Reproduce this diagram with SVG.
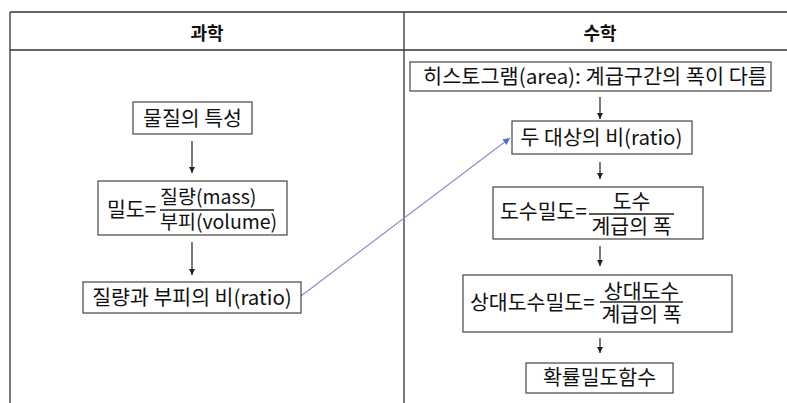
<svg xmlns="http://www.w3.org/2000/svg" width="787" height="403" viewBox="0 0 787 403">
<defs>
<style>
.t{font-family:"Noto Sans CJK KR","Malgun Gothic",sans-serif;font-size:20.5px;fill:#111;}
.f{font-family:"Noto Sans CJK KR","Malgun Gothic",sans-serif;font-size:19.5px;fill:#111;}
.h{font-family:"Noto Sans CJK KR",sans-serif;font-size:18px;font-weight:bold;fill:#111;}
.box{fill:#fff;stroke:#444;stroke-width:1.2;}
.frac{stroke:#222;stroke-width:1.3;}
.arr{stroke:#222;stroke-width:1.2;fill:none;marker-end:url(#ah);}
.tbl{stroke:#333;stroke-width:1.3;fill:none;}
</style>
<marker id="ah" viewBox="0 0 10 10" refX="10" refY="5" markerWidth="6" markerHeight="6" markerUnits="userSpaceOnUse" orient="auto">
<path d="M0,0 L10,5 L0,10 z" fill="#222"/>
</marker>
<marker id="ahb" viewBox="0 0 10 10" refX="10" refY="5" markerWidth="7" markerHeight="7" markerUnits="userSpaceOnUse" orient="auto">
<path d="M0,0 L10,5 L0,10 z" fill="#4a6fd0"/>
</marker>
</defs>
<rect width="787" height="403" fill="#fff"/>
<g id="table">
<line class="tbl" x1="10" y1="12" x2="787" y2="12"/>
<line x1="10" y1="50" x2="787" y2="50" stroke="#666" stroke-width="2"/>
<line class="tbl" x1="10" y1="12" x2="10" y2="403"/>
<line class="tbl" x1="404" y1="12" x2="404" y2="403"/>
<text class="h" x="207" y="39.5" text-anchor="middle">과학</text>
<text class="h" x="600" y="39.5" text-anchor="middle">수학</text>
</g>
<g id="connectors">
<line class="arr" x1="192" y1="141" x2="192" y2="173"/>
<line class="arr" x1="192" y1="242" x2="192" y2="275"/>
<line class="arr" x1="600" y1="97" x2="600" y2="119"/>
<line class="arr" x1="600" y1="162" x2="600" y2="179"/>
<line class="arr" x1="600" y1="246" x2="600" y2="266"/>
<line class="arr" x1="600" y1="338" x2="600" y2="353"/>
<line x1="301" y1="296" x2="510" y2="138" stroke="#8a8fd0" stroke-width="1.2" marker-end="url(#ahb)"/>
</g>
<g id="n1">
<rect class="box" x="133" y="102" width="119" height="32"/>
<text class="t" x="192.5" y="125.5" text-anchor="middle">물질의 특성</text>
</g>
<g id="n2">
<rect class="box" x="98" y="181" width="189" height="54"/>
<text class="t" x="107" y="217">밀도=</text>
<line class="frac" x1="160" y1="210" x2="274" y2="210"/>
<text class="f" x="160" y="204">질량(mass)</text>
<text class="f" x="160" y="229">부피(volume)</text>
</g>
<g id="n3">
<rect class="box" x="83" y="282" width="218" height="31"/>
<text class="t" x="192" y="304.5" text-anchor="middle">질량과 부피의 비(ratio)</text>
</g>
<g id="n4">
<rect class="box" x="410" y="62" width="361" height="29"/>
<text class="t" x="423" y="83.5" textLength="344" lengthAdjust="spacingAndGlyphs">히스토그램(area): 계급구간의 폭이 다름</text>
</g>
<g id="n5">
<rect class="box" x="512" y="121" width="180" height="33"/>
<text class="t" x="601.5" y="144.5" text-anchor="middle">두 대상의 비(ratio)</text>
</g>
<g id="n6">
<rect class="box" x="493" y="187" width="210" height="52"/>
<text class="t" x="500" y="219">도수밀도=</text>
<line class="frac" x1="589" y1="214" x2="674" y2="214"/>
<text class="t" x="631.5" y="209" text-anchor="middle">도수</text>
<text class="t" x="631.5" y="234" text-anchor="middle">계급의 폭</text>
</g>
<g id="n7">
<rect class="box" x="463" y="275" width="269" height="57"/>
<text class="t" x="470" y="310">상대도수밀도=</text>
<line class="frac" x1="600" y1="302" x2="683" y2="302"/>
<text class="t" x="641.5" y="299" text-anchor="middle">상대도수</text>
<text class="t" x="641.5" y="322" text-anchor="middle">계급의 폭</text>
</g>
<g id="n8">
<rect class="box" x="526" y="363" width="147" height="30"/>
<text class="t" x="599.5" y="385" text-anchor="middle">확률밀도함수</text>
</g>
</svg>
